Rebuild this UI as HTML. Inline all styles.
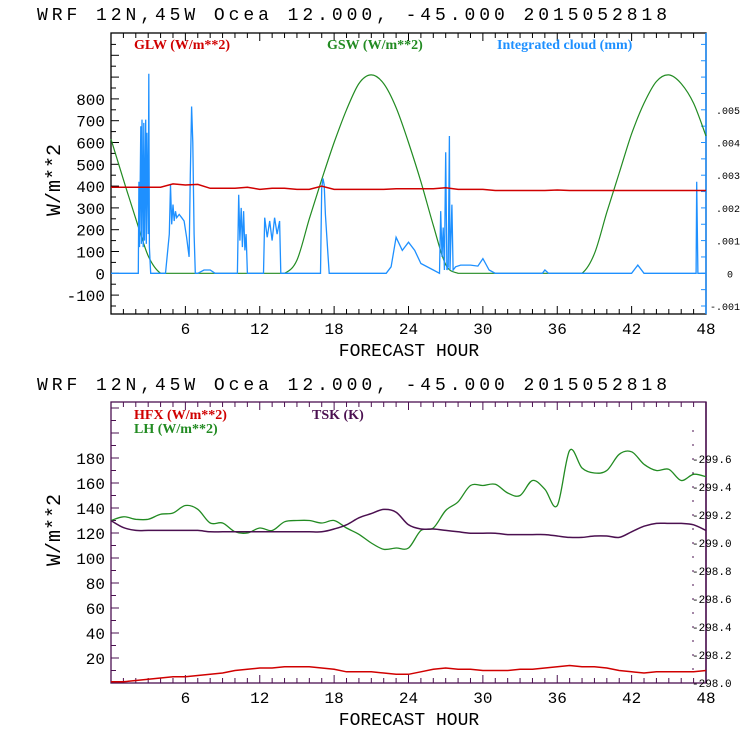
<!DOCTYPE html>
<html><head><meta charset="utf-8"><style>
body{margin:0;background:#fff}
svg text{font-family:"Liberation Mono",monospace}
.tk{font-size:16px;fill:#000}
.lg{font-family:"Liberation Serif",serif!important;font-size:14px;font-weight:bold}
</style></head><body>
<svg id="c" width="740" height="740" xmlns="http://www.w3.org/2000/svg"></svg>
<script>
const hours=[];for(let h=0;h<=48;h++)hours.push(h);
const gswVals=[615,430,250,80,0,0,0,0,0,0,0,0,0,0,0,60,250,430,600,750,870,910,870,760,600,420,220,40,0,0,0,0,0,0,0,0,0,0,0,90,280,460,640,780,880,910,870,780,630];
const glwVals=[395,395,395,395,395,410,405,408,390,390,390,395,385,390,390,385,385,400,385,385,385,385,385,388,388,388,388,392,385,385,385,380,380,380,380,380,382,380,380,380,380,380,380,380,380,380,380,380,380];
const cloudT=[
 0,2.2,2.25,2.3,2.4,2.45,2.5,2.6,2.65,2.7,2.8,2.85,2.9,3.0,3.05,3.1,3.15,3.2,
 4.4,4.7,4.8,4.9,5.0,5.1,5.2,5.3,5.5,5.7,5.9,6.1,6.3,6.4,6.5,6.6,6.7,6.8,
 7.0,7.5,8.0,8.4,
 10.2,10.3,10.4,10.5,10.6,10.7,10.8,10.9,11.0,
 12.3,12.4,12.6,12.8,13.0,13.2,13.4,13.6,13.7,
 16.9,17.0,17.1,17.2,17.3,17.5,17.6,
 22.2,22.6,23.0,23.5,24.0,24.5,25.0,26.0,26.5,
 26.6,26.7,26.8,26.9,27.0,27.1,27.2,27.3,27.35,27.5,27.6,27.8,28.2,29,29.6,30,30.5,31,
 34.8,35,35.3,42,42.5,43,47.2,47.25,47.35,48];
const cloudV=[
 0,0,0.0028,0.0008,0.0045,0.0009,0.0047,0.0008,0.0046,0.0010,0.0047,0.0009,0.0043,0.0012,0.0061,0.0008,0.0004,0,
 0,0.0012,0.0027,0.0015,0.0021,0.0016,0.0019,0.0017,0.0018,0.0017,0.0016,0.0011,0.0005,0.0030,0.0051,0.0040,0.0012,0,
 0,0.0001,0.0001,0,
 0,0.0024,0.0010,0.0020,0.0008,0.0019,0.0007,0.0012,0,
 0,0.0017,0.0011,0.0016,0.0010,0.0017,0.0012,0.0016,0,
 0,0.0026,0.0029,0.0027,0.0018,0.0006,0,
 0,0.0002,0.0011,0.0007,0.00095,0.0007,0.0003,0.0001,0,
 0.0019,0.0005,0.0014,0.0001,0.0037,0.0001,0.0002,0.0042,0.0001,0.0021,0.0001,0.0002,0.00025,0.00025,0.00022,0.00045,0.0001,0,
 0,0.0001,0,0,0.00025,0,0,0.0028,0,0];
const lhVals=[130,133,131,131,135,136,142,139,128,128,121,120,124,122,129,130,130,128,130,124,119,112,107,108,108,122,124,138,145,158,158,159,152,150,162,155,142,186,172,168,170,183,185,175,170,171,162,167,165];
const tskVals=[299.16,299.11,299.09,299.09,299.09,299.09,299.09,299.09,299.08,299.08,299.08,299.08,299.08,299.08,299.08,299.08,299.08,299.08,299.10,299.13,299.18,299.21,299.24,299.22,299.13,299.10,299.10,299.09,299.08,299.07,299.07,299.07,299.06,299.06,299.06,299.06,299.05,299.04,299.04,299.05,299.05,299.04,299.08,299.12,299.14,299.14,299.14,299.13,299.09];
const hfxVals=[1,1,2,3,4,5,5,6,7,8,10,11,12,12,13,13,13,12,11,9,9,9,8,7,7,9,11,12,11,11,10,10,10,11,11,12,13,14,13,13,12,10,9,8,9,9,9,9,10];
const topLeftTicks=[-100,0,100,200,300,400,500,600,700,800];
const topRightTicks=[-0.001,0,0.001,0.002,0.003,0.004,0.005];
const botLeftTicks=[20,40,60,80,100,120,140,160,180];
const botRightTicks=[298.0,298.2,298.4,298.6,298.8,299.0,299.2,299.4,299.6];
const xTicks=[6,12,18,24,30,36,42,48];

const S=document.getElementById('c'),NS='http://www.w3.org/2000/svg';
function el(t,a,txt){const e=document.createElementNS(NS,t);for(const k in a)e.setAttribute(k,a[k]);if(txt!=null)e.textContent=txt;S.appendChild(e);return e;}
const X0=111,X1=706;const xs=h=>X0+(X1-X0)*h/48;
const yT=v=>273.3-v*0.218, yTR=v=>273.3-v*32700;
const yB=v=>683-v*1.25, yBR=v=>683-(v-298)*140;
function line(xa,ya,fx,fy,col,name,w,smooth,clamp){
 const P=xa.map((x,i)=>[fx(x),fy(ya[i])]);
 let d='M'+P[0][0].toFixed(1)+' '+P[0][1].toFixed(1);
 for(let i=1;i<P.length;i++){
  if(smooth){const p0=P[Math.max(0,i-2)],p1=P[i-1],p2=P[i],p3=P[Math.min(P.length-1,i+1)];
   const c1=[p1[0]+(p2[0]-p0[0])/6,p1[1]+(p2[1]-p0[1])/6],c2=[p2[0]-(p3[0]-p1[0])/6,p2[1]-(p3[1]-p1[1])/6];
   if(clamp){const lo=Math.min(p1[1],p2[1]),hi=Math.max(p1[1],p2[1]);
    if(p1[1]===p2[1]){c1[1]=p1[1];c2[1]=p1[1];}
    c1[1]=Math.min(Math.max(c1[1],lo-8),hi);c2[1]=Math.min(Math.max(c2[1],lo-8),hi);}
   d+='C'+c1.map(v=>v.toFixed(1)).join(' ')+' '+c2.map(v=>v.toFixed(1)).join(' ')+' '+p2[0].toFixed(1)+' '+p2[1].toFixed(1);}
  else d+='L'+P[i][0].toFixed(1)+' '+P[i][1].toFixed(1);}
 const p=el('path',{d:d,fill:'none',stroke:col,'stroke-width':w||1.2});
 
 }
function title(y,name){const t=el('text',{x:37,y:y,'font-size':'18px',fill:'#000',textLength:630,'font-family':'Liberation Sans Narrow, Liberation Sans, sans-serif'},'WRF  12N,45W Ocea  12.000, -45.000  2015052818');

}
function panel(top,bot,frame,rightCol,name){
 const r=el('rect',{x:X0,y:top,width:X1-X0,height:bot-top,fill:'none',stroke:frame,'stroke-width':1.3});
 
 
 el('line',{x1:X1,y1:top,x2:X1,y2:bot,stroke:rightCol,'stroke-width':1.5});
 for(let h=1;h<48;h++){el('line',{x1:xs(h),y1:bot,x2:xs(h),y2:bot-(h%6?5:8),stroke:frame});el('line',{x1:xs(h),y1:top,x2:xs(h),y2:top+(h%6?5:8),stroke:frame});}
 xTicks.forEach(h=>{const t=el('text',{x:xs(h),y:bot+20,'text-anchor':'middle',class:'tk'},String(h));
 
 });
 const xt=el('text',{x:409,y:bot+42,'text-anchor':'middle','font-size':'18px','font-family':'Liberation Sans, sans-serif'},'FORECAST HOUR');
 
 
}
function ytitle(cy,name){const t=el('text',{x:0,y:0,'font-size':'20px','text-anchor':'middle','font-family':'Liberation Sans, sans-serif',transform:`translate(60,${cy}) rotate(-90)`},'W/m**2');

}

// top panel
title(20,'top-title');
panel(33,314,'#000','#1e90ff','top-plot-frame');
for(let v=-150;v<=1050;v+=50){const y=yT(v);if(y>34&&y<313)el('line',{x1:X0,y1:y,x2:X0+(v%100?5:8),y2:y,stroke:'#000'});}
for(let v=-0.0015;v<=0.0075;v+=0.0005){const y=yTR(v);if(y>34&&y<313)el('line',{x1:X1,y1:y,x2:X1-5,y2:y,stroke:'#1e90ff'});}
topLeftTicks.forEach(v=>{const t=el('text',{x:105,y:yT(v)+6,'text-anchor':'end',class:'tk'},String(v));

});
topRightTicks.forEach(v=>{const s=v===0?'0':(v<0?'-.00'+(-v*1000).toFixed(0):'.00'+(v*1000).toFixed(0));const t=el('text',{x:v===0?733:740,y:yTR(v)+4,'text-anchor':'end','font-size':'10px'},s);

});
ytitle(180,'top-y-axis-title');
line(hours,gswVals,xs,yT,'#228b22','gsw-line',1.2,true,true);
line(cloudT,cloudV,xs,yTR,'#1e90ff','cloud-line',1.3,false);
line(hours,glwVals,xs,yT,'#d00000','glw-line',1.5,false);
[['GLW (W/m**2)',134,'#d00000'],['GSW (W/m**2)',327,'#228b22'],['Integrated cloud (mm)',497,'#1e90ff']].forEach(a=>{const t=el('text',{x:a[1],y:49,fill:a[2],class:'lg'},a[0]);

});

// bottom panel
const P='#4b1050';
title(390,'bottom-title');
panel(402,683,P,P,'bottom-plot-frame');
for(let v=10;v<=220;v+=10){const y=yB(v);if(y>403)el('line',{x1:X0,y1:y,x2:X0+(v%20?5:8),y2:y,stroke:P});}
for(let v=298.1;v<=299.9;v+=0.1){const y=yBR(v);if(y>410)el('line',{x1:X1-12,y1:y,x2:X1-14,y2:y,stroke:P});}
botLeftTicks.forEach(v=>{const t=el('text',{x:105,y:yB(v)+6,'text-anchor':'end',class:'tk'},String(v));

});
botRightTicks.forEach(v=>{const t=el('text',{x:692,y:yBR(v)+4,'font-size':'11px'},'-'+v.toFixed(1));

});
ytitle(530,'bottom-y-axis-title');
line(hours,lhVals,xs,yB,'#228b22','lh-line',1.3,true);
line(hours,tskVals,xs,yBR,P,'tsk-line',1.5,true);
line(hours,hfxVals,xs,yB,'#d00000','hfx-line',1.5,false);
[['HFX (W/m**2)',134,419,'#d00000'],['LH  (W/m**2)',134,433,'#228b22'],['TSK (K)',312,419,P]].forEach(a=>{const t=el('text',{x:a[1],y:a[2],fill:a[3],class:'lg'},a[0]);

});
</script>
</body></html>
